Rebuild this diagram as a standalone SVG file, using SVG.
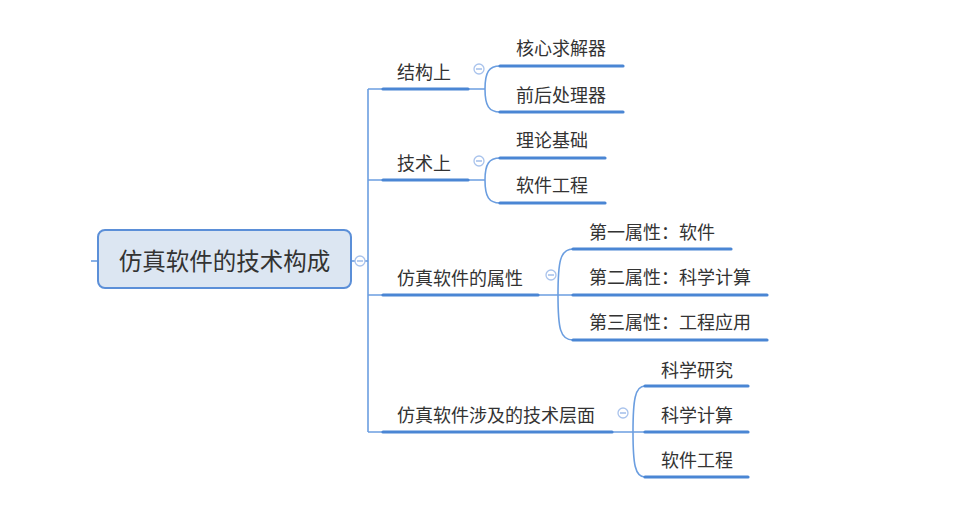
<svg xmlns="http://www.w3.org/2000/svg" width="953" height="515" viewBox="0 0 953 515">
<style>
.thin{fill:none;stroke:#6b9ee0;stroke-width:1.6}
.thick{fill:none;stroke:#4a86d4;stroke-width:3.2;stroke-linecap:round}
.t{font-family:"Noto Sans CJK SC","Noto Sans",sans-serif;font-size:18px;fill:#333;dominant-baseline:central}
.ct{font-family:"Noto Sans CJK SC","Noto Sans",sans-serif;font-size:23.5px;fill:#333;dominant-baseline:central;text-anchor:middle}
.cc{fill:#fff;stroke:#a9c3ec;stroke-width:1.3}
.cm{stroke:#8aaee4;stroke-width:1.2}
</style>
<rect width="953" height="515" fill="#fff"/>
<g id="connectors">
<line class="thin" x1="91" y1="261" x2="98" y2="261"/>
<line class="thin" x1="351" y1="261" x2="368" y2="261"/>
<line class="thin" x1="368" y1="89" x2="368" y2="432"/>
<line class="thin" x1="368" y1="89" x2="485" y2="89"/>
<line class="thin" x1="368" y1="180" x2="485" y2="180"/>
<line class="thin" x1="368" y1="295" x2="573" y2="295"/>
<line class="thin" x1="368" y1="432" x2="645" y2="432"/>
<path class="thin" d="M485,89 C485,72 489,66 500,66 M485,89 C485,106 489,112 500,112"/>
<path class="thin" d="M485,180 C485,164 489,158 500,158 M485,180 C485,197 489,203 500,203"/>
<path class="thin" d="M558,295 C558,262 560,249 573,249 M558,295 C558,328 560,340 573,340"/>
<path class="thin" d="M633,432 C633,400 635,386 645,386 M633,432 C633,464 635,477 645,477"/>
</g>
<g id="root">
<rect x="98" y="230" width="253" height="58" rx="7" fill="#dce6f2" stroke="#5b8fd8" stroke-width="2"/>
<text class="ct" x="224.5" y="260">仿真软件的技术构成</text>
<circle class="cc" cx="360" cy="261" r="5"/><line class="cm" x1="357" y1="261" x2="363" y2="261"/>
</g>
<g id="b1">
<line class="thick" x1="383" y1="89" x2="468" y2="89"/>
<text class="t" x="397" y="71">结构上</text>
<circle class="cc" cx="479" cy="69" r="5"/><line class="cm" x1="476" y1="69" x2="482" y2="69"/>
</g>
<g id="b1c1"><line class="thick" x1="500" y1="66" x2="623" y2="66"/><text class="t" x="516" y="47">核心求解器</text></g>
<g id="b1c2"><line class="thick" x1="500" y1="112" x2="623" y2="112"/><text class="t" x="516" y="94">前后处理器</text></g>
<g id="b2">
<line class="thick" x1="383" y1="180" x2="468" y2="180"/>
<text class="t" x="397" y="162">技术上</text>
<circle class="cc" cx="479" cy="161" r="5"/><line class="cm" x1="476" y1="161" x2="482" y2="161"/>
</g>
<g id="b2c1"><line class="thick" x1="500" y1="158" x2="605" y2="158"/><text class="t" x="516" y="139">理论基础</text></g>
<g id="b2c2"><line class="thick" x1="500" y1="203" x2="605" y2="203"/><text class="t" x="516" y="184">软件工程</text></g>
<g id="b3">
<line class="thick" x1="383" y1="295" x2="538" y2="295"/>
<text class="t" x="397" y="277">仿真软件的属性</text>
<circle class="cc" cx="551" cy="275" r="5"/><line class="cm" x1="548" y1="275" x2="554" y2="275"/>
</g>
<g id="b3c1"><line class="thick" x1="573" y1="249" x2="731" y2="249"/><text class="t" x="589" y="231">第一属性：软件</text></g>
<g id="b3c2"><line class="thick" x1="573" y1="295" x2="767" y2="295"/><text class="t" x="589" y="276">第二属性：科学计算</text></g>
<g id="b3c3"><line class="thick" x1="573" y1="340" x2="767" y2="340"/><text class="t" x="589" y="321">第三属性：工程应用</text></g>
<g id="b4">
<line class="thick" x1="383" y1="432" x2="612" y2="432"/>
<text class="t" x="397" y="414">仿真软件涉及的技术层面</text>
<circle class="cc" cx="623" cy="413" r="5"/><line class="cm" x1="620" y1="413" x2="626" y2="413"/>
</g>
<g id="b4c1"><line class="thick" x1="645" y1="386" x2="748" y2="386"/><text class="t" x="661" y="369">科学研究</text></g>
<g id="b4c2"><line class="thick" x1="645" y1="432" x2="748" y2="432"/><text class="t" x="661" y="414">科学计算</text></g>
<g id="b4c3"><line class="thick" x1="645" y1="477" x2="748" y2="477"/><text class="t" x="661" y="459">软件工程</text></g>
</svg>
